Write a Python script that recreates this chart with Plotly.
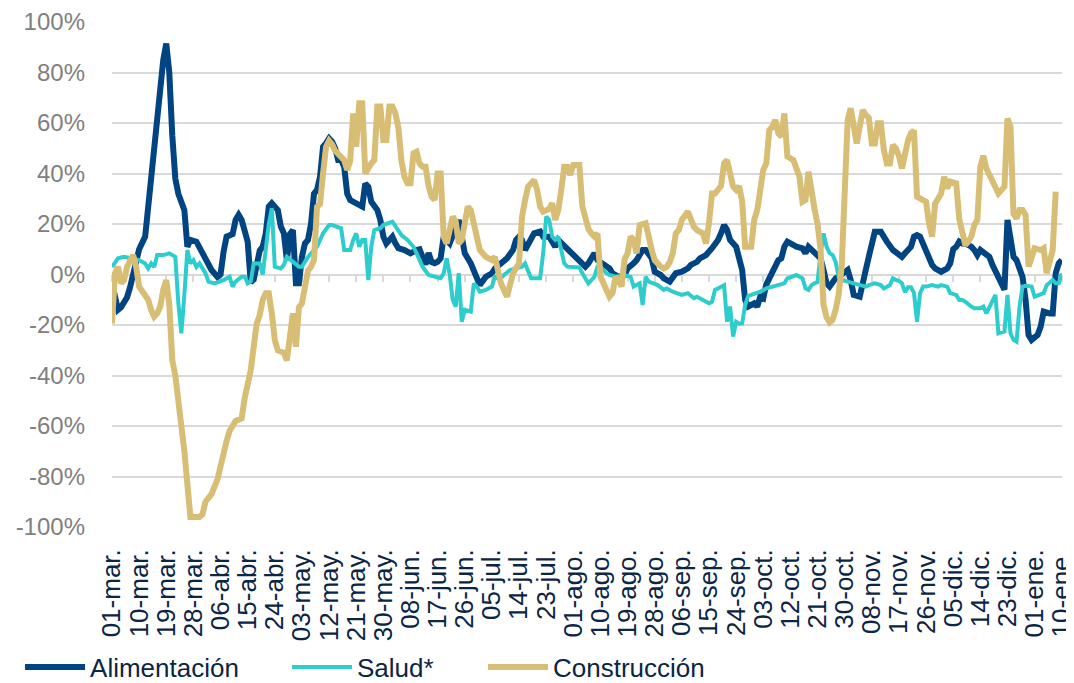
import pandas as pd
import plotly.graph_objects as go

start_date = "2020-03-01"

tick_labels = ["01-mar.", "10-mar.", "19-mar.", "28-mar.", "06-abr.", "15-abr.", "24-abr.",
               "03-may.", "12-may.", "21-may.", "30-may.", "08-jun.", "17-jun.", "26-jun.",
               "05-jul.", "14-jul.", "23-jul.", "01-ago.", "10-ago.", "19-ago.", "28-ago.",
               "06-sep.", "15-sep.", "24-sep.", "03-oct.", "12-oct.", "21-oct.", "30-oct.",
               "08-nov.", "17-nov.", "26-nov.", "05-dic.", "14-dic.", "23-dic.", "01-ene.",
               "10-ene."]

y_tick_values = [-100, -80, -60, -40, -20, 0, 20, 40, 60, 80, 100]
y_tick_labels = ["-100%", "-80%", "-60%", "-40%", "-20%", "0%", "20%", "40%", "60%", "80%", "100%"]

# (day offset from start_date, % change)
alimentacion = [(0,-3.5),(2,-14),(3,-13),(5,-9),(6,-5),(8,6),(9,10),(11,15),(12,27),(13,39),(14,51),(15,65),
    (16,72),(17,85),(18,91.5),(19,80),(20,55),(21,38),(22,32),(23,28),(24,25.5),(25,11),(26,13.7),(28,13),
    (30,8.4),(31,5.7),(33,1.8),(35,-1),(36,0),(37,9),(38,15),(40,16),(41,21.6),(42,23.6),(43,21.6),(45,13),
    (46,-3),(47,-2),(48,4.4),(49,9.5),(50,11),(51,16.3),(52,26.9),(53,28.2),(55,25.5),(56,19),(57,16.3),
    (58,5.7),(59,16),(60,17.6),(61,-3.5),(62,-3.5),(63,7),(64,12.3),(65,13.7),(66,20),(67,32),(68,33.5),
    (69,38.7),(70,50.6),(71,52),(72,53.9),(73,52.6),(74,50),(75,45.3),(76,45.3),(77,42.7),(78,32),(79,29.5),
    (81,28.2),(83,26.9),(84,36),(85,34.8),(86,28.8),(87,26.9),(88,25.5),(89,21.6),(90,15),(91,12.3),(93,15),
    (94,12.3),(95,10.4),(97,9.7),(98,9),(99,8.4),(101,9.7),(102,10),(103,7),(104,4),(105,8.5),(106,5),
    (107,4.5),(108,5),(109,6.4),(110,15),(112,12.3),(113,16),(115,21.6),(116,15),(117,8.4),(119,4.4),
    (120,1.8),(121,-2.2),(122,-4.2),(124,-0.9),(126,0.5),(127,2.4),(130,5),(131,6.4),(133,9.7),(134,13.7),
    (135,15),(136,13.7),(137,9.7),(139,13.7),(140,16.3),(142,17),(143,15),(145,15),(147,11),(148,13.7),
    (151,10.4),(153,7.7),(155,6),(157,3.1),(158,4.4),(160,8.4),(161,5.7),(163,3.8),(165,2.4),(166,0.5),
    (168,-0.9),(170,-0.2),(171,2.4),(173,4.4),(174,5.7),(176,9.7),(177,9.7),(179,6.4),(180,1.1),(182,-0.2),
    (183,-1.5),(185,-2.8),(186,-0.9),(187,0.5),(189,1.1),(191,2.4),(192,3.8),(194,5),(195,6.4),(197,7.7),
    (199,10.4),(200,11.7),(201,13.7),(202,16.3),(203,19.6),(204,17.6),(205,13.7),(207,11),(208,7),(209,1.8),
    (210,-10.1),(211,-12.7),(213,-11.4),(214,-12.7),(215,-8.8),(216,-9.4),(217,-4),(218,-1.5),(219,1),
    (220,3.1),(221,5.7),(222,6.4),(223,11),(224,13),(226,11.7),(227,11),(229,10.4),(230,8.4),(231,11),
    (232,9.7),(233,8.4),(234,7),(235,6.4),(236,1.8),(237,-3.5),(238,-4.8),(240,-1.5),(241,-0.9),(243,0.5),
    (244,1.8),(245,-2.2),(246,-8.1),(248,-8.8),(249,-2.2),(250,1.8),(251,7),(252,12.3),(253,16.9),(255,16.9),
    (256,14.3),(257,13),(259,9.7),(261,7.7),(262,7),(263,8.4),(264,9.7),(265,11),(266,15),(267,15.6),
    (268,15),(269,12.3),(270,10),(271,6),(272,3.8),(273,2.4),(274,1.8),(275,1.1),(277,2.4),(278,4.4),
    (279,10),(280,11),(281,13),(282,12.3),(283,12.3),(284,11.7),(285,11),(286,9.7),(287,7.7),(288,9.7),
    (289,9),(291,7),(292,3.8),(294,-0.9),(295,-3),(296,-6),(297,21.6),(298,15),(299,7),(300,5.7),(301,2),
    (302,-1),(303,-10),(304,-24),(305,-25.9),(306,-25),(307,-23.9),(308,-20.7),(309,-14.7),(311,-15.4),
    (312,-15.4),(313,0.5),(314,4.4),(315,5.7)]

salud = [(0,3),(2,6.4),(4,7),(7,6.4),(9,5.7),(11,4.4),(12,2.4),(13,4.4),(14,3),(15,7.7),(17,7.7),(19,8.4),
    (20,7.7),(21,7),(22,-11.4),(23,-23.3),(24,-8),(25,9.7),(26,4.4),(27,5.7),(28,3),(29,4.4),(31,0.5),
    (32,-2.8),(34,-3.5),(36,-2.8),(37,-2.2),(39,-0.9),(40,-4.8),(41,-2.8),(43,-0.9),(44,-0.9),(45,-3.5),
    (46,-2.8),(47,4.4),(49,4.4),(50,0),(51,10),(52,20),(53,26.2),(54,3.1),(56,2.4),(57,3.8),(58,7),(60,5),
    (62,3.1),(63,3.1),(65,7),(67,9.7),(68,11),(70,16.3),(72,19.6),(73,19.6),(76,18.3),(77,9.7),(79,9.7),
    (80,13.7),(81,16.3),(82,11),(83,13.7),(84,13.7),(85,-2.2),(86,11),(87,17.6),(89,18.3),(90,19.6),
    (93,20.9),(94,18.9),(96,15.6),(98,13.7),(100,11),(101,8.4),(102,6),(103,3.1),(105,-0.2),(107,-0.9),
    (109,-1.5),(110,0.5),(111,6.4),(112,0),(113,-10),(114,-12.7),(115,0.5),(116,-18.7),(117,-14),
    (119,-14.7),(120,-3.5),(121,-4.8),(122,-6.8),(124,-6.1),(126,-4.8),(127,-0.9),(129,-1.5),(130,-0.2),
    (132,1.8),(134,2.4),(136,3.1),(137,4.4),(138,1.8),(139,-1.5),(142,-1.5),(143,8.4),(144,22.9),(145,21.6),
    (146,15),(147,13.7),(148,15),(150,4.4),(151,3.1),(153,3.1),(155,2.8),(156,0.5),(158,-3.5),(160,-0.9),
    (161,3.1),(162,3.1),(164,0.5),(165,-0.2),(167,-0.9),(170,-0.2),(172,-0.9),(173,-4.8),(175,-3.5),
    (176,-12.1),(177,-0.9),(178,-2.8),(180,-3.5),(181,-4.2),(183,-6.1),(184,-5.5),(186,-6.8),(188,-7.4),
    (189,-8.1),(191,-7.4),(193,-9.4),(194,-8.8),(196,-10.1),(198,-11.4),(199,-10.8),(200,-6.1),(201,-5.5),
    (202,-4.8),(203,-4.2),(204,-18.7),(205,-12.7),(206,-24.6),(207,-18.7),(208,-19.5),(209,-19.4),
    (210,-12),(211,-8.5),(212,-8.1),(214,-7.4),(215,-6.8),(217,-5.5),(219,-4.8),(221,-4.2),(223,-3.5),
    (224,-1.5),(226,-0.9),(227,-0.2),(229,-1.5),(230,-5.5),(231,-6.1),(232,-4.2),(233,-3.5),(234,-3),
    (235,8),(236,16.3),(237,11),(238,8.5),(239,7.7),(240,5),(241,-1),(242,-2.2),(244,-2.8),(246,-3.5),
    (248,-4.2),(250,-4.8),(251,-4.2),(253,-3.5),(255,-4.2),(256,-5.5),(258,-4.2),(259,-1.5),(260,-2.2),
    (261,-2.5),(262,-3.5),(263,-7),(264,-5),(265,-5),(266,-7.4),(267,-18.7),(268,-7.4),(269,-4.8),
    (270,-4.8),(272,-4.2),(274,-4.8),(275,-4.2),(277,-4.8),(278,-7.4),(280,-8.1),(281,-10.1),(282,-10.1),
    (283,-10.8),(285,-12.7),(286,-13.4),(288,-13.4),(289,-12.7),(290,-15.4),(291,-12.7),(292,-10.8),
    (293,-8.1),(294,-23.3),(295,-23),(296,-22.6),(297,-8.1),(298,-23.3),(299,-25.9),(300,-26.6),
    (301,-12.7),(302,-4.8),(303,-4.5),(305,-4.8),(306,-8.8),(308,-8.1),(309,-7.4),(310,-4.2),(312,-2.2),
    (313,-3.5),(314,-3.5),(315,0.5)]

construccion = [(0,-19.4),(1,0.5),(2,3.1),(3,-3.5),(4,-2.2),(5,3.1),(7,7.7),(8,3.1),(9,-4.8),(11,-8.8),
    (12,-10),(13,-14),(14,-16.7),(15,-15.4),(16,-12.7),(17,-6),(18,-2.2),(19,-12),(20,-34),(21,-40),
    (22,-48),(23,-60),(24,-70),(25,-86),(26,-96),(28,-96),(29,-96),(30,-95),(31,-90),(33,-87),(34,-84),
    (35,-81),(36,-76),(37,-70),(38,-66),(39,-62),(40,-60),(41,-58),(43,-57),(44,-49),(46,-38),(47,-29),
    (48,-19.4),(49,-16),(50,-10),(51,-7.4),(52,-7.4),(53,-15.4),(54,-26),(55,-30),(57,-31),(58,-34),
    (59,-22),(60,-15.4),(61,-28.6),(62,-13),(63,-11.4),(64,-4.8),(65,1.5),(66,3),(67,5.7),(68,26.8),
    (69,28),(70,40),(71,50.6),(72,53),(73,51.5),(74,49),(75,48),(76,47),(77,45.3),(78,41.4),(79,45),
    (80,63.8),(81,50.6),(82,67.8),(83,67.8),(84,40),(85,42.7),(86,44),(87,45.3),(88,66.5),(89,66.5),
    (90,53.3),(91,53.3),(92,66.5),(93,66.5),(94,63.8),(95,58),(96,45),(97,38.7),(98,36.1),(99,36.1),
    (100,48),(101,48.6),(102,44),(103,42.7),(104,42.7),(105,35),(106,30.8),(107,29.5),(108,40),(109,40),
    (110,15),(111,12.3),(112,18),(113,22.9),(114,21),(115,12.3),(116,13.7),(118,26.9),(119,25.5),
    (120,20.3),(121,13.7),(122,9.7),(124,7),(125,6.4),(126,5.7),(127,7),(128,2.4),(129,-3.5),(131,-8.8),
    (132,-3.5),(133,0.5),(135,4.4),(136,22.9),(137,29.5),(138,34.8),(140,37.4),(141,33.5),(142,26.9),
    (143,24.9),(145,26),(146,28.2),(147,21.6),(148,25.5),(149,33.5),(150,42.7),(151,42.7),(152,39.4),
    (153,43.4),(155,43.4),(156,27),(157,22),(158,18),(159,16.3),(160,15),(161,16.3),(162,-0.9),(163,-3.5),
    (164,-6.1),(165,-8.8),(166,-7.4),(167,-0.9),(168,-2.2),(169,-4.8),(170,6),(171,8.4),(172,15),
    (173,13.7),(174,8.4),(175,19.6),(177,20.3),(178,13.7),(179,9.7),(180,5.7),(181,4),(182,3.1),(183,2.4),
    (184,3.1),(185,5),(186,8.4),(187,16.3),(188,17.6),(189,21.6),(190,23),(191,24.9),(193,18.9),
    (194,17.6),(196,16.3),(197,12.3),(198,20.3),(199,32.1),(200,32.1),(201,34),(202,35),(203,44),
    (204,45.3),(205,40),(206,34.8),(207,33.5),(208,35),(209,29),(210,11),(212,11),(213,21.6),(214,25.5),
    (215,34.8),(216,41.4),(217,44),(218,57.2),(219,58.5),(220,61.2),(221,55.9),(222,54.6),(223,63.8),
    (224,46.7),(226,45.3),(227,41.4),(228,38.7),(229,28.8),(230,29.5),(231,40.7),(232,32.1),(233,26),
    (234,20),(235,10),(236,-12),(237,-17),(238,-19),(239,-18),(240,-14),(241,-8),(242,3.1),(243,40),
    (244,61.2),(245,65.8),(246,58.5),(247,51.9),(248,58.5),(249,65.1),(250,63.2),(251,62),(252,51.9),
    (253,51.9),(254,59.9),(255,59.9),(256,49.3),(257,44),(258,44),(259,51.3),(260,50),(261,47),(262,42),
    (263,48),(264,53),(265,56),(266,57),(267,30.8),(268,30.1),(269,29.5),(270,28.8),(271,20),(272,15),
    (273,28),(275,32.1),(276,38.7),(277,34.1),(278,36.8),(280,36.1),(281,22),(282,16.3),(283,11.7),
    (284,13),(285,15),(286,19.6),(287,21.6),(288,42.7),(289,47),(290,42),(291,39.5),(292,38),(293,35),
    (294,32.1),(296,34.8),(297,61.8),(298,58.5),(299,24),(300,22.2),(301,25.5),(302,25.5),(303,23.6),
    (304,3.1),(305,6.4),(306,10.4),(308,9.7),(309,10.4),(310,0.5),(311,5.7),(312,9.7),(313,32.8)]

series = [("Alimentación", alimentacion, "#004481", 6, "legend", 0.0113),
          ("Salud*", salud, "#2DCCCD", 4, "legend2", 0.2617),
          ("Construcción", construccion, "#D8BE75", 6, "legend3", 0.4456)]

start = pd.Timestamp(start_date)
def to_dates(days):
    return [start + pd.Timedelta(days=d) for d in days]

tick_vals = to_dates([9 * i for i in range(len(tick_labels))])
end = tick_vals[-1] + pd.Timedelta(hours=2)

FONT = "Liberation Sans, Arial, sans-serif"
NAVY = "#0B2545"
GRID = "#D9D9D9"

fig = go.Figure()
for name, data, color, width, leg, _ in series:
    days = [d for d, _ in data]
    vals = [v for _, v in data]
    fig.add_trace(go.Scatter(x=to_dates(days), y=vals, mode="lines", name=name,
                             line=dict(color=color, width=width), legend=leg,
                             hovertemplate="%{x|%d-%b}: %{y:.1f}%<extra>" + name + "</extra>"))

# dummy trace to carry the zero-line category axis (tick marks at 0%)
fig.add_trace(go.Scatter(x=[start], y=[None], xaxis="x2", showlegend=False, hoverinfo="skip"))

legends = {}
for name, data, color, width, leg, lx in series:
    legends[leg] = dict(orientation="h", xref="container", yref="container",
                        x=lx, y=0.0237, xanchor="left", yanchor="middle",
                        font=dict(family=FONT, size=26, color=NAVY),
                        bgcolor="rgba(0,0,0,0)", itemwidth=60)

# page body adds an 8px offset, so the figure is 8px smaller than the window
fig.update_layout(
    width=1066, height=675,
    margin=dict(l=104, r=12, t=14, b=156, autoexpand=False),
    paper_bgcolor="white", plot_bgcolor="white",
    font=dict(family=FONT),
    showlegend=True,
    **legends,
    xaxis=dict(type="date", range=[start, end], tickmode="array", tickvals=tick_vals,
               ticktext=tick_labels, tickangle=-90, showgrid=False, zeroline=False,
               showline=False, ticks="", ticklabelstandoff=16, automargin=False,
               ticklabeloverflow="allow",
               tickfont=dict(family=FONT, size=26, color=NAVY)),
    xaxis2=dict(type="date", overlaying="x", matches="x", anchor="free", position=0.5,
                tickmode="array", tickvals=tick_vals, showticklabels=False, ticks="outside",
                ticklen=7, tickcolor=GRID, tickwidth=1.5, showline=True, linecolor=GRID,
                linewidth=1.5, showgrid=False, zeroline=False, layer="below traces"),
    yaxis=dict(range=[-100, 100], tickmode="array", tickvals=y_tick_values,
               ticktext=y_tick_labels, showgrid=True, automargin=False,
               gridcolor=GRID, gridwidth=1.5, zeroline=False, showline=False, ticks="",
               ticklabelstandoff=26, tickfont=dict(family=FONT, size=24, color="#808080")),
)

fig.write_html("out.html")
